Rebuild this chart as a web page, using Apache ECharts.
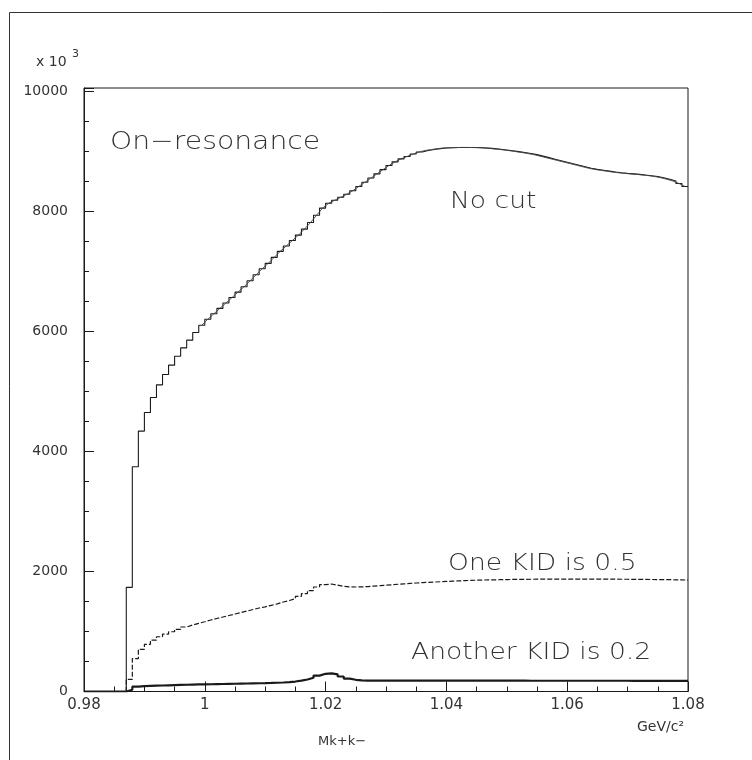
<!DOCTYPE html>
<html>
<head>
<meta charset="utf-8">
<script src="https://cdn.jsdelivr.net/npm/echarts@6/dist/echarts.min.js"></script>
<style>
  html, body { margin: 0; padding: 0; background: #fff; }
  #chart { width: 752px; height: 760px; }
</style>
</head>
<body>
<div id="chart"></div>
<script>
// K+K- invariant mass histograms, 1 MeV bins starting at 0.98 GeV/c^2
const binStart = 0.98;
const binWidth = 0.001;

const xTickLabels = ['0.98', '1', '1.02', '1.04', '1.06', '1.08'];
const yTickLabels = ['0', '2000', '4000', '6000', '8000', '10000'];

// Entries per bin, in units of 10^3
const noCut = [
  0, 0, 0, 0, 0, 0, 0, 1734, 3742, 4336,
  4647, 4897, 5107, 5280, 5435, 5584, 5723, 5851, 5979, 6100,
  6200, 6290, 6380, 6470, 6560, 6650, 6740, 6840, 6940, 7040,
  7130, 7230, 7330, 7420, 7510, 7600, 7700, 7810, 7930, 8050,
  8130, 8180, 8230, 8280, 8340, 8410, 8480, 8550, 8620, 8690,
  8760, 8820, 8870, 8910, 8950, 8985, 9010, 9025, 9040, 9050,
  9055, 9058, 9060, 9060, 9058, 9055, 9048, 9040, 9030, 9018,
  9005, 8990, 8975, 8958, 8940, 8915, 8890, 8865, 8840, 8815,
  8790, 8765, 8740, 8715, 8695, 8680, 8665, 8650, 8638, 8628,
  8620, 8612, 8600, 8590, 8575, 8555, 8530, 8500, 8460, 8410
];

const oneKid05 = [
  0, 0, 0, 0, 0, 0, 0, 203, 546, 702,
  785, 857, 912, 957, 995, 1035, 1074, 1107, 1135, 1162,
  1190, 1215, 1240, 1265, 1290, 1315, 1340, 1365, 1390, 1410,
  1435, 1460, 1490, 1515, 1545, 1585, 1630, 1680, 1740, 1780,
  1790, 1770, 1750, 1742, 1740, 1742, 1748, 1755, 1762, 1770,
  1778, 1786, 1793, 1800, 1807, 1813, 1818, 1823, 1828, 1833,
  1838, 1842, 1846, 1850, 1853, 1856, 1858, 1860, 1862, 1864,
  1866, 1867, 1868, 1869, 1870, 1871, 1872, 1872, 1872, 1872,
  1872, 1872, 1872, 1872, 1871, 1871, 1870, 1870, 1869, 1869,
  1868, 1867, 1866, 1865, 1864, 1863, 1862, 1860, 1858, 1856
];

const anotherKid02 = [
  0, 0, 0, 0, 0, 0, 0, 30, 80, 88,
  93, 97, 100, 103, 106, 109, 112, 115, 117, 119,
  121, 123, 125, 127, 129, 131, 133, 135, 137, 139,
  142, 146, 150, 157, 166, 180, 200, 230, 265, 295,
  303, 285, 250, 215, 195, 186, 182, 181, 181, 180,
  180, 180, 180, 180, 180, 180, 180, 180, 180, 180,
  180, 180, 180, 180, 180, 180, 180, 180, 180, 180,
  180, 180, 180, 179, 179, 179, 179, 179, 179, 179,
  179, 179, 179, 179, 179, 179, 179, 179, 179, 179,
  178, 178, 178, 178, 178, 178, 178, 178, 178, 178
];

// First bin from which the no-cut curve also gets a line through bin centres
const overlayFrom = 19;

// Bin contents -> step polyline points at the bin low edges (plus closing edge)
function stepPoints(values) {
  const pts = values.map((v, i) => [binStart + i * binWidth, v]);
  pts.push([binStart + values.length * binWidth, values[values.length - 1]]);
  return pts;
}
function centrePoints(values, from) {
  const pts = [];
  for (let i = from; i < values.length; i++) {
    pts.push([binStart + (i + 0.5) * binWidth, values[i]]);
  }
  return pts;
}

const ink = '#1a1a1a';
const labelFont = 'DejaVu Sans';

const chart = echarts.init(document.getElementById('chart'), null, { renderer: 'canvas' });

const yMax = 10050;

chart.setOption({
  animation: false,
  backgroundColor: '#fff',
  grid: {
    left: 84, right: 64, top: 88, bottom: 68.5,
    show: true, borderColor: ink, borderWidth: 1, backgroundColor: 'transparent'
  },
  xAxis: {
    type: 'value',
    min: 0.98, max: 1.08, interval: 0.02,
    axisLine: { show: true, onZero: false, lineStyle: { color: ink, width: 1 } },
    axisTick: { show: true, inside: true, length: 10, lineStyle: { color: ink } },
    minorTick: { show: true, splitNumber: 4, length: 5, lineStyle: { color: ink } },
    splitLine: { show: false },
    axisLabel: {
      fontFamily: labelFont, fontSize: 15, color: '#333', margin: 6,
      showMinLabel: true, showMaxLabel: true,
      formatter: function (v) {
        const hit = xTickLabels.find(s => Math.abs(Number(s) - v) < 1e-6);
        return hit || '';
      }
    }
  },
  yAxis: [
    {
      type: 'value', position: 'left',
      min: 0, max: yMax, interval: 2000,
      axisLine: { show: true, onZero: false, lineStyle: { color: ink, width: 1 } },
      axisTick: { show: true, inside: true, length: 10, lineStyle: { color: ink } },
      splitLine: { show: false },
      axisLabel: {
        fontFamily: labelFont, fontSize: 14, color: '#333', margin: 16,
        formatter: function (v) {
          const hit = yTickLabels.find(s => Math.abs(Number(s) - v) < 1e-6);
          return hit || '';
        }
      }
    },
    {
      type: 'value', position: 'left',
      min: 0, max: yMax, interval: 500,
      axisLine: { show: false },
      axisTick: { show: true, inside: true, length: 5, lineStyle: { color: ink } },
      splitLine: { show: false },
      axisLabel: { show: false }
    }
  ],
  series: [
    {
      name: 'No cut', type: 'line', step: 'end', yAxisIndex: 0,
      data: stepPoints(noCut), symbol: 'none',
      lineStyle: { color: ink, width: 1.1 }
    },
    {
      name: 'No cut (centres)', type: 'line', yAxisIndex: 0,
      data: centrePoints(noCut, overlayFrom), symbol: 'none',
      lineStyle: { color: '#444', width: 0.9 }
    },
    {
      name: 'One KID is 0.5', type: 'line', step: 'end', yAxisIndex: 0,
      data: stepPoints(oneKid05), symbol: 'none',
      lineStyle: { color: ink, width: 1.2, type: [5, 2] }
    },
    {
      name: 'Another KID is 0.2', type: 'line', step: 'end', yAxisIndex: 0,
      data: stepPoints(anotherKid02), symbol: 'none',
      lineStyle: { color: ink, width: 2.2 }
    }
  ],
  graphic: [
    {
      type: 'rect', silent: true,
      shape: { x: 9.5, y: 12.5, width: 800, height: 800 },
      style: { fill: 'none', stroke: '#333', lineWidth: 1 }
    },
    {
      type: 'text', x: 36, y: 62,
      style: { text: 'x 10', font: '14px "DejaVu Sans"', fill: '#333', verticalAlign: 'middle' }
    },
    {
      type: 'text', x: 72, y: 54,
      style: { text: '3', font: '11px "DejaVu Sans"', fill: '#333', verticalAlign: 'middle' }
    },
    {
      type: 'text', x: 110, y: 142, scaleX: 1.13,
      style: { text: 'On\u2212resonance', font: '200 25px "DejaVu Sans"', fill: '#333', verticalAlign: 'middle' }
    },
    {
      type: 'text', x: 450, y: 202, scaleX: 1.13,
      style: { text: 'No cut', font: '200 23.5px "DejaVu Sans"', fill: '#333', verticalAlign: 'middle' }
    },
    {
      type: 'text', x: 448, y: 564, scaleX: 1.13,
      style: { text: 'One KID is 0.5', font: '200 23.5px "DejaVu Sans"', fill: '#333', verticalAlign: 'middle' }
    },
    {
      type: 'text', x: 411, y: 653, scaleX: 1.13,
      style: { text: 'Another KID is 0.2', font: '200 23.5px "DejaVu Sans"', fill: '#333', verticalAlign: 'middle' }
    },
    {
      type: 'text', x: 637, y: 727,
      style: { text: 'GeV/c\u00b2', font: '14px "DejaVu Sans"', fill: '#333', verticalAlign: 'middle' }
    },
    {
      type: 'text', x: 318, y: 742,
      style: { text: 'Mk+k\u2212', font: '13px "DejaVu Sans"', fill: '#333', verticalAlign: 'middle' }
    }
  ]
});
</script>
</body>
</html>
